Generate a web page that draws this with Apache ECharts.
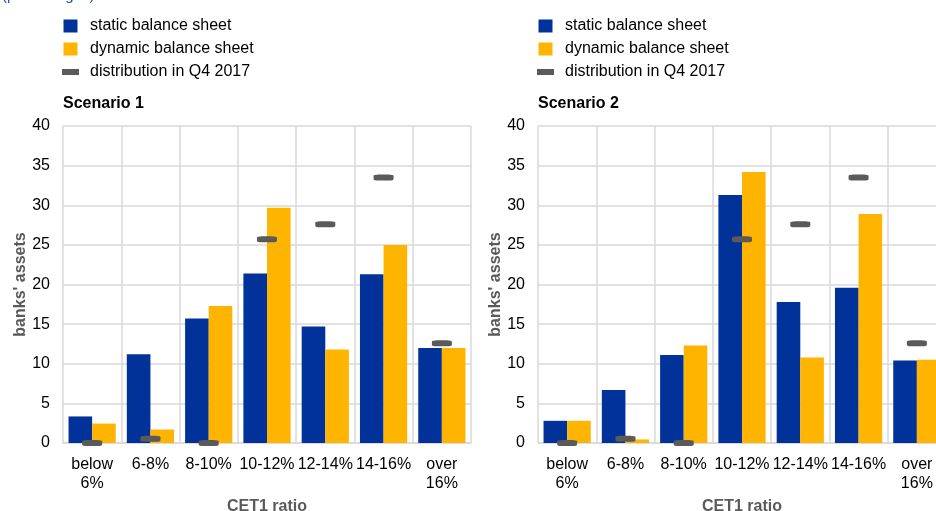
<!DOCTYPE html>
<html>
<head>
<meta charset="utf-8">
<script src="https://cdn.jsdelivr.net/npm/echarts@6/dist/echarts.min.js"></script>
<style>html,body{margin:0;padding:0;background:#fff}#c{width:936px;height:511px}</style>
</head>
<body>
<div id="c"></div>
<script>
var categories = ['below\n6%', '6-8%', '8-10%', '10-12%', '12-14%', '14-16%', 'over\n16%'];
var yTicks = [0, 5, 10, 15, 20, 25, 30, 35, 40];
var s1Static = [3.35, 11.2, 15.7, 21.4, 14.7, 21.3, 12.0];
var s1Dynamic = [2.45, 1.7, 17.3, 29.7, 11.8, 25.0, 12.0];
var s2Static = [2.8, 6.7, 11.1, 31.3, 17.8, 19.6, 10.4];
var s2Dynamic = [2.8, 0.45, 12.3, 34.2, 10.8, 28.9, 10.5];
var distQ42017 = [0, 0.55, 0, 25.7, 27.6, 33.5, 12.6];
var seriesNames = ['static balance sheet', 'dynamic balance sheet', 'distribution in Q4 2017'];
var panelTitles = ['Scenario 1', 'Scenario 2'];

var FONT = 'Arial, "Liberation Sans", sans-serif';
var BLUE = '#003299', ORANGE = '#FFB400', GREY = '#5a5a5a';
var chart = echarts.init(document.getElementById('c'));

var gridLefts = [63, 538];
var grids = [], xAxes = [], yAxes = [], legends = [], titles = [], series = [];
var statics = [s1Static, s2Static], dynamics = [s1Dynamic, s2Dynamic];

for (var i = 0; i < 2; i++) {
  grids.push({left: gridLefts[i], top: 126, width: 408, height: 317, outerBoundsMode: 'none', containLabel: false});
  xAxes.push({
    type: 'category', gridIndex: i, data: categories,
    axisLine: {show: true, lineStyle: {color: '#d9d9d9', width: 1.5}},
    axisTick: {show: false},
    splitLine: {show: true, lineStyle: {color: '#d9d9d9', width: 1.5}},
    axisLabel: {color: '#000', fontSize: 16, fontFamily: FONT, margin: 12, lineHeight: 19, interval: 0},
    name: 'CET1 ratio', nameLocation: 'middle', nameGap: 56,
    nameTextStyle: {color: GREY, fontSize: 16, fontWeight: 'bold', fontFamily: FONT}
  });
  yAxes.push({
    type: 'value', gridIndex: i, min: yTicks[0], max: yTicks[yTicks.length - 1], interval: yTicks[1] - yTicks[0],
    axisLine: {show: false}, axisTick: {show: false},
    splitLine: {show: true, lineStyle: {color: '#d9d9d9', width: 1.5}},
    axisLabel: {color: '#000', fontSize: 16, fontFamily: FONT, margin: 13},
    name: "banks' assets", nameLocation: 'middle', nameGap: 33, nameRotate: 90,
    nameTextStyle: {color: GREY, fontSize: 16, fontWeight: 'bold', fontFamily: FONT}
  });
  legends.push({
    orient: 'vertical', left: gridLefts[i] - 1, top: 18, padding: 0,
    itemWidth: 17, itemHeight: 13, itemGap: 7,
    selectedMode: false,
    textStyle: {color: '#000', fontSize: 16, lineHeight: 16, fontFamily: FONT, padding: [0, 0, 0, 6]},
    data: [
      {name: seriesNames[0], icon: 'path://M0,0h14v13h-14z', itemStyle: {color: BLUE}},
      {name: seriesNames[1], icon: 'path://M0,0h14v13h-14z', itemStyle: {color: ORANGE}},
      {name: seriesNames[2], icon: 'path://M0,0h17v6h-17z', itemStyle: {color: GREY}}
    ]
  });
  titles.push({
    text: panelTitles[i], left: gridLefts[i], top: 96, padding: 0,
    textStyle: {color: '#000', fontSize: 16, fontWeight: 'bold', fontFamily: FONT}
  });
  series.push({
    name: seriesNames[0], type: 'bar', xAxisIndex: i, yAxisIndex: i, data: statics[i],
    barGap: '0%', barCategoryGap: '19%', itemStyle: {color: BLUE}
  });
  series.push({
    name: seriesNames[1], type: 'bar', xAxisIndex: i, yAxisIndex: i, data: dynamics[i],
    barGap: '0%', barCategoryGap: '19%', itemStyle: {color: ORANGE}
  });
  series.push({
    name: seriesNames[2], type: 'scatter', xAxisIndex: i, yAxisIndex: i, data: distQ42017,
    symbol: 'roundRect', symbolSize: [20, 6], itemStyle: {color: GREY, opacity: 1}, z: 5
  });
}

chart.setOption({
  animation: false,
  backgroundColor: '#fff',
  textStyle: {fontFamily: FONT},
  title: titles,
  legend: legends,
  grid: grids,
  xAxis: xAxes,
  yAxis: yAxes,
  series: series,
  graphic: [{
    type: 'text', left: 2, top: -12,
    style: {text: '(percentages)', fill: '#1f4fbf', fontSize: 15, fontFamily: FONT}
  }]
});
</script>
</body>
</html>
